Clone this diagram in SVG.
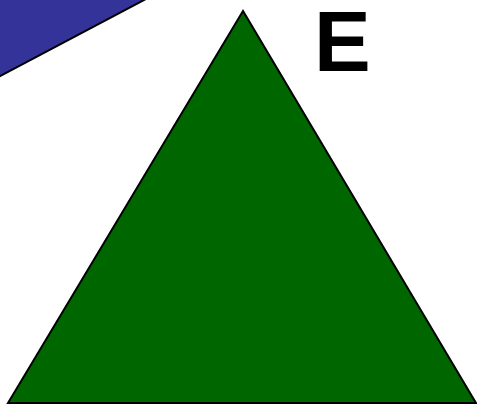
<svg xmlns="http://www.w3.org/2000/svg" width="477" height="405" viewBox="0 0 477 405">
<style>
.shape{stroke:#000;stroke-width:2;stroke-linejoin:miter}
.lbl{font-family:"Liberation Sans",Arial,sans-serif;font-weight:bold;font-size:85px;fill:#000}
</style>
<rect width="477" height="405" fill="#fff"/>
<g id="blue">
<polygon class="shape" fill="#333399" points="-10,-10 163,-10 -10,81.3"/>
</g>
<g id="triangle">
<polygon class="shape" fill="#006600" points="243,11 8,403 476,403"/>
</g>
<g id="label">
<text class="lbl" x="314" y="71">E</text>
</g>
<g id="connectors"></g>
</svg>
